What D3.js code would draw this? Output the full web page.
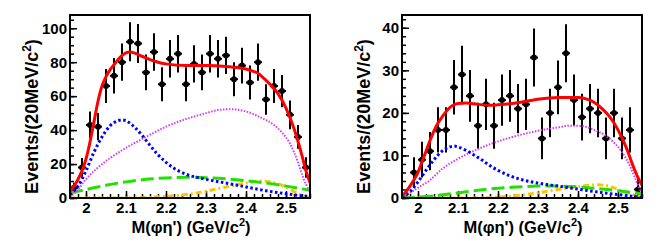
<!DOCTYPE html>
<html>
<head>
<meta charset="utf-8">
<script src="https://cdn.jsdelivr.net/npm/d3@7"></script>
<style>
  body { margin: 0; background: #fff; }
  text { font-family: "Liberation Sans", Arial, sans-serif; font-weight: bold; fill: #000; }
</style>
</head>
<body>
<div id="chart"></div>
<script>
// bin centres (GeV/c^2), 20 MeV bins
var massBins = [1.97, 1.99, 2.01, 2.03, 2.05, 2.07, 2.09, 2.11, 2.13, 2.15,
                2.17, 2.19, 2.21, 2.23, 2.25, 2.27, 2.29, 2.31, 2.33, 2.35,
                2.37, 2.39, 2.41, 2.43, 2.45, 2.47, 2.49, 2.51, 2.53, 2.55];

var xTicks = [2, 2.1, 2.2, 2.3, 2.4, 2.5];

// left panel
var eventsLeft = [6, 18, 43, 42, 66, 72, 80, 92, 91, 74, 86, 67, 82, 85, 67, 79, 74, 85, 82, 84,
                  70, 78, 68, 80, 58, 66, 63, 49, 36, 18];
var errLeft = [3, 5.5, 8, 8, 10, 10.5, 11, 11.5, 11.5, 10.5, 11, 10, 11, 11, 10, 11, 10.5, 11, 11, 11,
               10, 10.5, 10, 11, 9, 10, 9.5, 8.5, 7, 6];
var yTicksLeft = [0, 20, 40, 60, 80, 100];

var totalLeft = [[1.96,4],[1.97,7],[1.98,11],[1.99,16],[2.00,23],[2.01,33],[2.02,45],[2.03,57],[2.04,66],
  [2.05,71.5],[2.06,75.5],[2.07,78.5],[2.08,81.5],[2.09,84],[2.10,85.5],[2.11,86],[2.12,85.5],[2.14,83.5],
  [2.16,81.5],[2.18,80],[2.20,79],[2.25,78],[2.30,78],[2.35,77.5],[2.40,76],[2.42,74.5],[2.43,73.5],
  [2.44,71.5],[2.46,67],[2.48,61.5],[2.50,53],[2.52,41],[2.54,25],[2.55,16],[2.56,9]];
var blueLeft = [[1.96,2],[1.98,7],[2.00,16],[2.02,27],[2.04,36],[2.06,42.5],[2.08,45.5],[2.09,46],[2.10,45.5],
  [2.12,42],[2.14,37],[2.16,31],[2.18,25.5],[2.20,21],[2.22,17.5],[2.25,14],[2.30,11],[2.35,8.8],[2.40,6.5],
  [2.45,4.3],[2.50,2.5],[2.56,0.8]];
var magentaLeft = [[1.96,0.5],[1.98,5],[2.00,11],[2.03,18],[2.06,23.5],[2.10,29.5],[2.15,36],[2.20,42],
  [2.25,46.5],[2.30,50],[2.33,51.8],[2.36,52.3],[2.40,51],[2.44,47],[2.47,43],[2.49,38.5],[2.51,32],
  [2.53,21],[2.54,14],[2.55,8],[2.56,4]];
var greenLeft = [[1.96,3],[2.00,5],[2.05,7.5],[2.10,9.5],[2.15,11],[2.20,11.8],[2.25,12.2],[2.30,12],
  [2.35,11.3],[2.40,10.2],[2.45,8.8],[2.50,7],[2.56,4.5]];
var orangeLeft = [[1.96,0],[2.10,0],[2.15,0.3],[2.20,1],[2.25,2],[2.30,4],[2.35,6.5],[2.40,8.8],[2.44,10],
  [2.47,9],[2.50,6.5],[2.53,2.5],[2.56,0]];

// right panel
var eventsRight = [0, 6, 9, 11, 16, 16, 26, 29, 24, 17, 22, 17, 23, 24, 21, 22, 33, 14, 20, 26,
                   34, 23, 19, 21, 20, 14, 20, 14, 16, 2];
var errRight = [0, 3.6, 4.2, 4.5, 5.3, 5.3, 6.4, 6.8, 6.1, 5.4, 6, 5.4, 6, 6.1, 5.8, 6, 6.8, 4.9, 5.7, 6.3,
                6.8, 6, 5.5, 5.8, 5.7, 4.9, 5.7, 4.9, 5.3, 2.5];
var yTicksRight = [0, 10, 20, 30, 40];

var totalRight = [[1.96,0.5],[1.97,1.5],[1.98,2.8],[1.99,4.3],[2.00,6],[2.01,8.5],[2.02,11],[2.03,13.5],
  [2.04,15.8],[2.05,17.6],[2.06,19],[2.07,20.3],[2.08,21.3],[2.09,21.9],[2.10,22.2],[2.12,22.3],[2.15,22],
  [2.18,21.8],[2.20,21.9],[2.25,22.4],[2.30,23.2],[2.35,23.6],[2.40,23.6],[2.42,23.3],[2.44,22.5],[2.46,21],
  [2.48,19],[2.50,16],[2.52,12],[2.54,7],[2.55,4.8],[2.56,3]];
var blueRight = [[1.96,0.2],[1.98,1.5],[2.00,3.8],[2.02,6.5],[2.04,9],[2.06,11],[2.08,12],[2.09,12.2],
  [2.10,12],[2.12,11.2],[2.14,10.1],[2.16,8.9],[2.18,7.6],[2.20,6.5],[2.23,5.2],[2.26,4.3],[2.30,3.5],
  [2.35,2.8],[2.40,2.1],[2.45,1.4],[2.50,0.8],[2.56,0.2]];
var magentaRight = [[1.96,0.2],[1.98,1.2],[2.00,2.4],[2.03,4.2],[2.06,6.8],[2.10,9.2],[2.15,11.5],[2.20,13.3],
  [2.25,14.7],[2.30,15.8],[2.35,16.6],[2.38,17],[2.41,16.9],[2.44,16],[2.47,14.6],[2.49,13],[2.51,10.8],
  [2.53,7.5],[2.54,5.3],[2.55,3],[2.56,1]];
var greenRight = [[1.96,0],[2.00,0.2],[2.05,0.6],[2.10,1.2],[2.15,1.8],[2.20,2.3],[2.25,2.6],[2.30,2.8],
  [2.35,2.8],[2.40,2.6],[2.45,2.2],[2.50,1.7],[2.56,1]];
var orangeRight = [[1.96,0],[2.15,0],[2.20,0.2],[2.25,0.6],[2.30,1.2],[2.35,2],[2.40,2.7],[2.45,3.1],
  [2.48,2.7],[2.50,2],[2.53,1],[2.56,0.2]];

var svg = d3.select("#chart")
  .append("svg")
  .attr("width", 664)
  .attr("height", 249);

function drawPanel(opts) {
  var width = 240, height = 183;
  var g = svg.append("g")
    .attr("transform", "translate(" + opts.left + "," + opts.top + ")");

  var x = d3.scaleLinear().domain([1.96, 2.56]).range([0, width]);
  var y = d3.scaleLinear().domain([0, opts.yMax]).range([height, 0]);

  g.append("clipPath").attr("id", "clip" + opts.id)
    .append("rect").attr("width", width).attr("height", height);

  // minor ticks
  g.append("g")
    .call(d3.axisLeft(y).tickValues(d3.range(0, opts.yMax, opts.yMinor)).tickSize(-4).tickFormat(""))
    .call(function(s) { s.select(".domain").remove(); })
    .selectAll("line").attr("stroke-width", 1.5);
  g.append("g")
    .attr("transform", "translate(0," + height + ")")
    .call(d3.axisBottom(x).tickValues(d3.range(1.96, 2.561, 0.02)).tickSize(-4).tickFormat(""))
    .call(function(s) { s.select(".domain").remove(); })
    .selectAll("line").attr("stroke-width", 1.5);

  // major ticks + labels
  var yAx = g.append("g")
    .call(d3.axisLeft(y).tickValues(opts.yTicks).tickSize(-7).tickPadding(3).tickFormat(d3.format("d")));
  yAx.select(".domain").remove();
  yAx.selectAll("line").attr("stroke-width", 1.5);
  yAx.selectAll("text").style("font-size", "15px").style("font-family", "Liberation Sans, Arial").style("font-weight", "bold");

  var xAx = g.append("g")
    .attr("transform", "translate(0," + height + ")")
    .call(d3.axisBottom(x).tickValues(xTicks).tickSize(-7).tickPadding(4).tickFormat(function(d) { return d3.format("")(d); }));
  xAx.select(".domain").remove();
  xAx.selectAll("line").attr("stroke-width", 1.5);
  xAx.selectAll("text").style("font-size", "15px").style("font-family", "Liberation Sans, Arial").style("font-weight", "bold");

  var plot = g.append("g").attr("clip-path", "url(#clip" + opts.id + ")");

  var line = d3.line()
    .x(function(d) { return x(d[0]); })
    .y(function(d) { return y(d[1]); })
    .curve(d3.curveMonotoneX);

  var styles = [
    { data: opts.orange, color: "#ffc300", w: 3, dash: "6,3,2,3" },
    { data: opts.green, color: "#22e000", w: 3, dash: "13,5" },
    { data: opts.magenta, color: "#d838f8", w: 2, dash: "1.5,1.5" },
    { data: opts.blue, color: "#0000ff", w: 3, dash: "2.5,2.5" },
    { data: opts.total, color: "#ff0000", w: 3, dash: null }
  ];

  // data points with error bars
  var pts = plot.selectAll(".pt")
    .data(massBins.map(function(m, i) { return { m: m, n: opts.events[i], e: opts.errors[i] }; }))
    .enter().append("g");
  pts.append("line")
    .attr("x1", function(d) { return x(d.m); })
    .attr("x2", function(d) { return x(d.m); })
    .attr("y1", function(d) { return y(d.n - d.e); })
    .attr("y2", function(d) { return y(d.n + d.e); })
    .attr("stroke", "#000").attr("stroke-width", 2);
  pts.append("line")
    .attr("x1", function(d) { return x(d.m - 0.01); })
    .attr("x2", function(d) { return x(d.m + 0.01); })
    .attr("y1", function(d) { return y(d.n); })
    .attr("y2", function(d) { return y(d.n); })
    .attr("stroke", "#000").attr("stroke-width", 2);
  pts.append("circle")
    .attr("cx", function(d) { return x(d.m); })
    .attr("cy", function(d) { return y(d.n); })
    .attr("r", 3)
    .attr("fill", "#000");

  styles.forEach(function(s) {
    plot.append("path")
      .datum(s.data)
      .attr("d", line)
      .attr("fill", "none")
      .attr("stroke", s.color)
      .attr("stroke-width", s.w)
      .attr("stroke-dasharray", s.dash);
  });

  // frame
  g.append("rect")
    .attr("width", width).attr("height", height)
    .attr("fill", "none").attr("stroke", "#000").attr("stroke-width", 2);

  // axis titles
  var yt = svg.append("text")
    .attr("transform", "translate(" + (opts.left - 32) + "," + (opts.top + height / 2 + 10) + ") rotate(-90)")
    .attr("text-anchor", "middle")
    .style("font-size", "18px");
  yt.append("tspan").text("Events/(20MeV/c");
  yt.append("tspan").attr("dy", -7).style("font-size", "12px").text("2");
  yt.append("tspan").attr("dy", 7).text(")");

  var xt = svg.append("text")
    .attr("x", opts.left + width / 2 + 1)
    .attr("y", 233)
    .attr("text-anchor", "middle")
    .style("font-size", "16.5px");
  xt.append("tspan").text("M(\u03c6\u03b7') (GeV/c");
  xt.append("tspan").attr("dy", -7).style("font-size", "11px").text("2");
  xt.append("tspan").attr("dy", 7).text(")");
}

drawPanel({ id: "L", left: 70, top: 15, yMax: 107.8, yMinor: 5, yTicks: yTicksLeft,
  events: eventsLeft, errors: errLeft,
  total: totalLeft, blue: blueLeft, magenta: magentaLeft, green: greenLeft, orange: orangeLeft });

drawPanel({ id: "R", left: 402, top: 15, yMax: 43, yMinor: 2, yTicks: yTicksRight,
  events: eventsRight, errors: errRight,
  total: totalRight, blue: blueRight, magenta: magentaRight, green: greenRight, orange: orangeRight });
</script>
</body>
</html>
